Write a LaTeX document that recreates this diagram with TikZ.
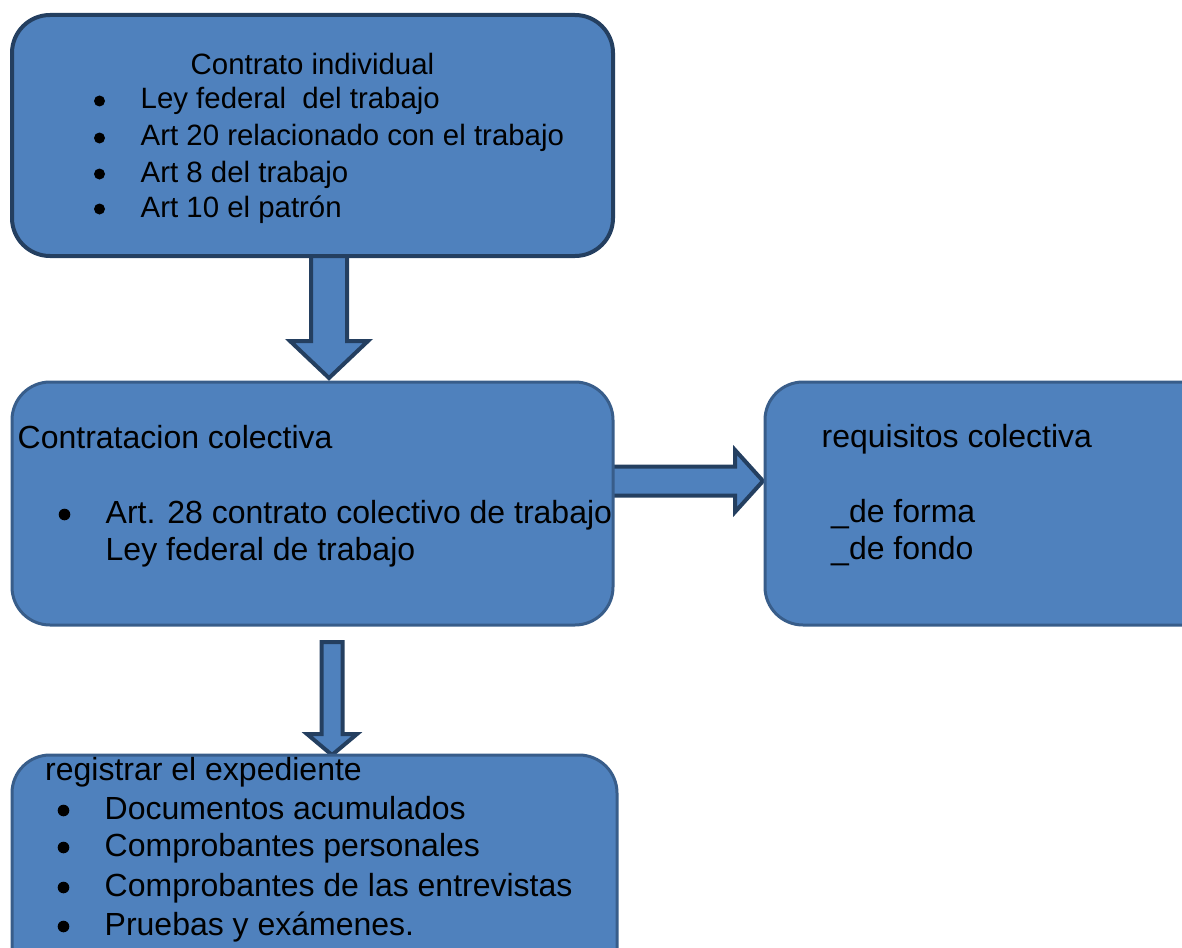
\documentclass[tikz,border=0pt]{standalone}
\usepackage{fontspec}
\setmainfont{Liberation Sans}
\usepackage{xcolor}
\definecolor{myblue}{HTML}{4F81BD}
\definecolor{myedge}{HTML}{385D8A}
\definecolor{mydark}{HTML}{243F60}
\usepackage{tikz}
\usetikzlibrary{calc}
\usetikzlibrary{backgrounds}
\tikzset{
  box/.style={draw=myedge, fill=myblue, line width=3pt, rounded corners=38pt, outer sep=0pt, inner sep=0pt},
  txt/.style={anchor=base west, inner sep=0pt, font=\fontsize{32}{38}\selectfont},
  smalltxt/.style={txt, font=\fontsize{29.4}{35}\selectfont},
  fatarrow/.style={draw=mydark, fill=myblue, line width=4pt, line join=miter},
}
% from, to, half shaft, half head, head length
\newcommand{\blockarrow}[5]{%
  \coordinate (hb) at ($(#2)!#5!(#1)$);
  \draw[fatarrow] ($(#1)!#3!90:(#2)$) -- ($(hb)!#3!-90:(#1)$) -- ($(hb)!#4!-90:(#1)$) -- (#2)
    -- ($(hb)!#4!90:(#1)$) -- ($(hb)!#3!90:(#1)$) -- ($(#1)!#3!-90:(#2)$) -- cycle;
}

\begin{document}
\begin{tikzpicture}[x=1pt, y=-1pt]
      \clip (0,0) rectangle (1182,947);
      \node[box, draw=mydark, line width=4pt, minimum width=601pt, minimum height=241pt] (ctrind) at (312.5,135.5) {};
      \node[box, minimum width=601pt, minimum height=243pt] (colect) at (312.5,503.5) {};
      \node[box, minimum width=460pt, minimum height=243pt] (req) at (995,503.5) {};
      \node[box, minimum width=605pt, minimum height=260pt] (reg) at (314.5,885) {};

      \coordinate (a1s) at ($(ctrind.south)+(16.5,-6)$);
      \coordinate (a1e) at ($(a1s |- colect.north)+(0,-4)$);
      \coordinate (a2s) at ($(colect.east)+(-6,-22.5)$);
      \coordinate (a2e) at ($(a2s -| req.west)+(-2,0)$);
      \coordinate (a3s) at ($(colect.south)+(19.5,17)$);
      \coordinate (a3e) at (a3s |- reg.north);
      \begin{scope}[on background layer]
        \blockarrow{a1s}{a1e}{18pt}{39pt}{37pt}
        \blockarrow{a2s}{a2e}{14.5pt}{31pt}{28pt}
        \blockarrow{a3s}{a3e}{10.5pt}{25pt}{21pt}
      \end{scope}

      \node[smalltxt] (ci0) at (190.5,75) {Contrato individual};
      \node[smalltxt] (ci1) at (140.5,109) {Ley federal\ \ del trabajo};
      \node[smalltxt] (ci2) at (140.5,146) {Art 20 relacionado con el trabajo};
      \node[smalltxt] (ci3) at (140.5,182) {Art 8 del trabajo};
      \node[smalltxt] (ci4) at (140.5,217) {Art 10 el patrón};

      \node[txt] (cc0) at (17.5,448) {Contratacion colectiva};
      \node[txt] (cc1) at (105.5,523) {Art. 28 contrato colectivo de trabajo};
      \node[txt] (cc2) at (105.5,560) {Ley federal de trabajo};

      \node[txt] (rq0) at (821.5,447) {requisitos colectiva};
      \node[txt] (rq1) at (831,522) {\_de forma};
      \node[txt] (rq2) at (831,559) {\_de fondo};

      \node[txt] (rg0) at (45,780) {registrar el expediente};
      \node[txt] (rg1) at (104.5,819) {Documentos acumulados};
      \node[txt] (rg2) at (104.5,856) {Comprobantes personales};
      \node[txt] (rg3) at (104.5,896) {Comprobantes de las entrevistas};
      \node[txt] (rg4) at (104.5,935) {Pruebas y exámenes.};

      \fill foreach \s in {ci1,ci2,ci3,ci4}{($(\s.base west)+(-41,-8)$) circle [radius=5.5pt]};
      \fill foreach \s in {cc1,rg1,rg2,rg3,rg4}{($(\s.base west)+(-41,-8.5)$) circle [radius=5.8pt]};
\end{tikzpicture}
\end{document}
